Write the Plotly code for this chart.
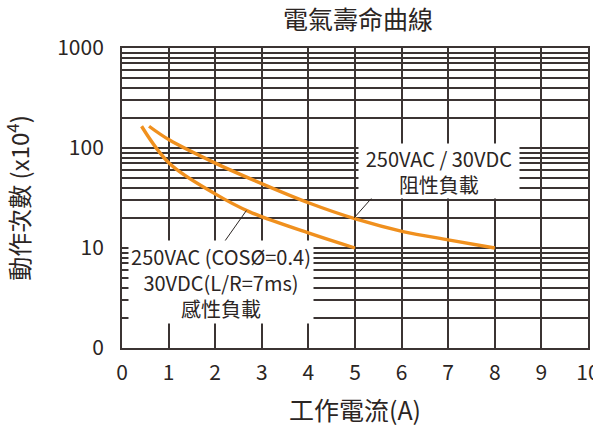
import plotly.graph_objects as go

# Data
res_x = [0.58, 1.02, 1.99, 2.81, 4.03, 5.03, 6.03, 7.03, 8.0]
res_y = [165, 120, 71, 48, 28, 19.4, 14.6, 12, 10]
ind_x = [0.42, 1.02, 1.99, 2.74, 4.03, 5.0]
ind_y = [165, 70, 35, 23, 14, 10]

x_ticks = list(range(0, 11))
y_grid = [m * 10 ** e for e in range(0, 3) for m in range(1, 10)] + [1000]
y_labels = {1: "0", 10: "10", 100: "100", 1000: "1000"}

FONT = "Noto Sans CJK TC"
GRID = "#3b3433"
ORANGE = "#F0901E"
TXT = "#2b2523"

fig = go.Figure()
fig.add_trace(go.Scatter(x=res_x, y=res_y, mode="lines",
                         line=dict(color=ORANGE, width=3.4, shape="spline", smoothing=1),
                         showlegend=False, hoverinfo="skip"))
fig.add_trace(go.Scatter(x=ind_x, y=ind_y, mode="lines",
                         line=dict(color=ORANGE, width=3.4, shape="spline", smoothing=1),
                         showlegend=False, hoverinfo="skip"))

fig.update_layout(
    width=593, height=428,
    margin=dict(l=122, r=5, t=48, b=80),
    paper_bgcolor="white", plot_bgcolor="white",
    font=dict(family=FONT, color=TXT),
    title=dict(text="電氣壽命曲線", x=358 / 593, xanchor="center", xref="container",
               y=1 - 20 / 428, yanchor="middle", yref="container",
               font=dict(size=25, color=TXT, family=FONT)),
)

fig.update_xaxes(range=[0, 10], tickvals=x_ticks, ticktext=[str(v) for v in x_ticks],
                 showgrid=True, gridcolor=GRID, gridwidth=1.6,
                 showline=True, mirror=True, linecolor=GRID, linewidth=2,
                 ticks="", zeroline=False, ticklabelstandoff=5,
                 ticklabeloverflow="allow", automargin=False,
                 tickfont=dict(size=21, color=TXT, family=FONT),
                 title=dict(text="工作電流(A)", standoff=17,
                            font=dict(size=25, color=TXT, family=FONT)))

fig.update_yaxes(type="log", range=[0, 3], tickvals=y_grid,
                 ticktext=[y_labels.get(v, "") for v in y_grid],
                 showgrid=True, gridcolor=GRID, gridwidth=1.6,
                 showline=True, mirror=True, linecolor=GRID, linewidth=2,
                 ticks="", zeroline=False, ticklabelstandoff=12,
                 automargin=False,
                 tickfont=dict(size=21, color=TXT, family=FONT),
                 title=dict(text="動作次數 (x10<sup>4</sup>)", standoff=24,
                            font=dict(size=24, color=TXT, family=FONT)))

# Leader lines (shapes on a log axis take data values)
fig.add_shape(type="line", xref="x", yref="y", x0=4.98, y0=20.0, x1=5.38, y1=32.4,
              line=dict(color=TXT, width=1))
fig.add_shape(type="line", xref="x", yref="y", x0=2.67, y0=23.7, x1=2.20, y1=11.6,
              line=dict(color=TXT, width=1))

# Label boxes
fig.add_annotation(x=6.8, y=1.77, xref="x", yref="y",
                   text="250VAC / 30VDC<br>阻性負載", showarrow=False,
                   bgcolor="white", width=158, height=52,
                   font=dict(size=20, color=TXT, family=FONT), align="center")
fig.add_annotation(x=2.12, y=0.66, xref="x", yref="y",
                   text="250VAC (COSØ=0.4)<br>30VDC(L/R=7ms)<br>感性負載", showarrow=False,
                   bgcolor="white", width=182, height=80,
                   font=dict(size=20, color=TXT, family=FONT), align="center")

fig.write_html("out.html", config={"displayModeBar": False},
               post_script="document.body.style.margin='0px';")
